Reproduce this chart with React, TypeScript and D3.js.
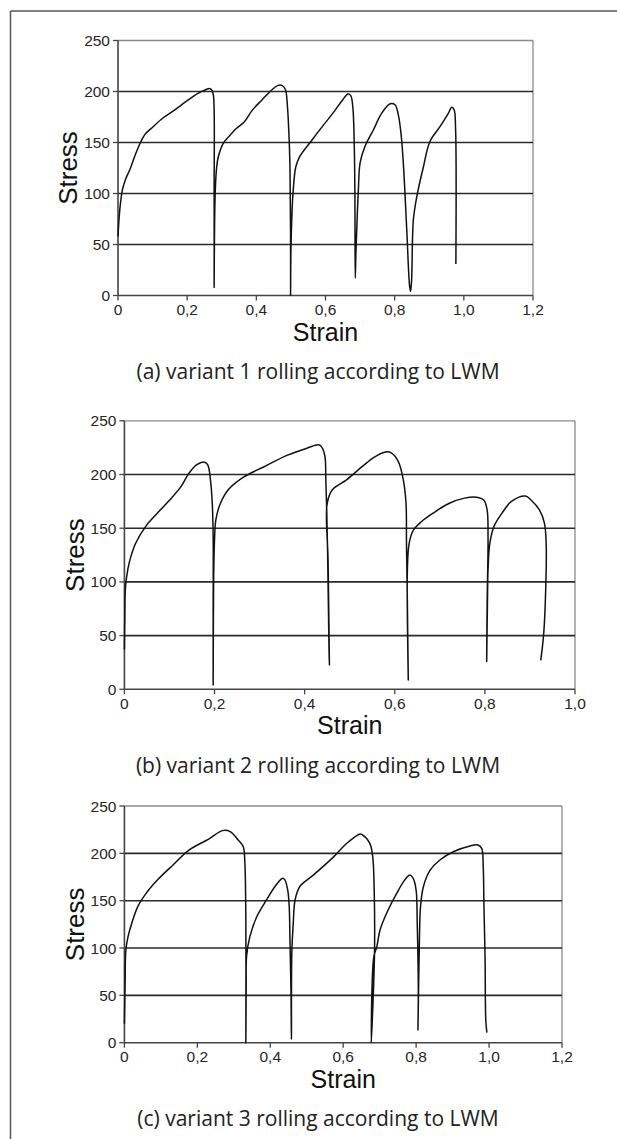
import React from "react";
import * as d3 from "d3";

// stress ticks shared by the three panels
const stressTicks = [0, 50, 100, 150, 200, 250];

const strainTicksA = [0, 0.2, 0.4, 0.6, 0.8, 1.0, 1.2];
const strainLabelsA = ["0", "0,2", "0,4", "0,6", "0,8", "1,0", "1,2"];
const strainTicksB = [0, 0.2, 0.4, 0.6, 0.8, 1.0];
const strainLabelsB = ["0", "0,2", "0,4", "0,6", "0,8", "1,0"];
const strainTicksC = [0, 0.2, 0.4, 0.6, 0.8, 1.0, 1.2];
const strainLabelsC = ["0", "0,2", "0,4", "0,6", "0,8", "1,0", "1,2"];

// (a) variant 1
const strainA = [0, 0.003, 0.007, 0.013, 0.022, 0.035, 0.05, 0.065, 0.078, 0.1, 0.13, 0.16, 0.2, 0.23, 0.255, 0.265, 0.272, 0.276, 0.278, 0.278, 0.279, 0.281, 0.285, 0.29, 0.304, 0.321, 0.343, 0.365, 0.389, 0.417, 0.446, 0.463, 0.474, 0.484, 0.49, 0.494, 0.497, 0.498, 0.499, 0.499, 0.5, 0.503, 0.506, 0.514, 0.525, 0.56, 0.594, 0.622, 0.65, 0.665, 0.673, 0.679, 0.683, 0.685, 0.686, 0.688, 0.692, 0.695, 0.7, 0.714, 0.738, 0.763, 0.787, 0.801, 0.81, 0.818, 0.825, 0.835, 0.843, 0.846, 0.849, 0.854, 0.864, 0.883, 0.902, 0.931, 0.955, 0.965, 0.972, 0.976, 0.977];
const stressA = [58, 75, 90, 104, 114, 124, 138, 150, 158, 165, 174, 181, 191, 198, 202, 203, 201, 196, 100, 8, 60, 100, 125, 136, 149, 156, 164, 170, 182, 192, 202, 206, 206, 202, 185, 160, 130, 100, 60, 0, 44, 80, 100, 126, 136, 152, 167, 179, 192, 197.5, 196, 185, 150, 100, 17, 42, 80, 103, 130, 146, 162, 179, 188, 187, 178, 160, 130, 64, 10, 4, 15, 74, 97, 126, 151, 165.5, 178.6, 184.5, 182, 165, 31];

// (b) variant 2
const strainB = [0, 0.001, 0.002, 0.005, 0.012, 0.025, 0.047, 0.073, 0.1, 0.126, 0.143, 0.16, 0.178, 0.185, 0.191, 0.195, 0.197, 0.197, 0.197, 0.198, 0.2, 0.203, 0.213, 0.231, 0.266, 0.309, 0.362, 0.405, 0.431, 0.438, 0.445, 0.447, 0.449, 0.451, 0.454, 0.455, 0.452, 0.45, 0.462, 0.493, 0.528, 0.554, 0.58, 0.593, 0.608, 0.619, 0.625, 0.626, 0.628, 0.63, 0.628, 0.632, 0.641, 0.659, 0.685, 0.72, 0.755, 0.785, 0.798, 0.805, 0.807, 0.805, 0.804, 0.806, 0.807, 0.811, 0.82, 0.838, 0.859, 0.89, 0.903, 0.921, 0.932, 0.936, 0.934, 0.93, 0.924];
const stressB = [37, 70, 92.5, 105, 120, 136, 151.5, 164, 176, 189, 201, 209, 211.5, 209, 195, 173, 142, 80, 4, 100, 139, 158, 173, 186, 198, 207, 218, 224.5, 227.6, 225.5, 217, 195, 167, 127, 40, 22.7, 120, 173, 186, 195, 207.5, 216, 221, 220, 212, 195, 173, 136, 80, 8.7, 111, 136, 148, 156, 164, 173, 178, 178.6, 176, 167, 142, 80, 26, 90, 111, 136, 151.5, 164, 175, 180, 176, 167, 155, 136, 80, 49, 27];

// (c) variant 3
const strainC = [0, 0.002, 0.004, 0.01, 0.02, 0.037, 0.06, 0.091, 0.134, 0.177, 0.231, 0.269, 0.29, 0.312, 0.326, 0.33, 0.333, 0.333, 0.334, 0.335, 0.344, 0.363, 0.39, 0.413, 0.434, 0.44, 0.448, 0.452, 0.454, 0.457, 0.458, 0.459, 0.463, 0.468, 0.481, 0.518, 0.573, 0.61, 0.646, 0.651, 0.673, 0.681, 0.685, 0.686, 0.683, 0.677, 0.684, 0.692, 0.701, 0.719, 0.747, 0.769, 0.783, 0.792, 0.8, 0.803, 0.806, 0.805, 0.809, 0.812, 0.82, 0.838, 0.865, 0.902, 0.948, 0.97, 0.98, 0.984, 0.986, 0.989, 0.991, 0.994];
const stressC = [20, 63, 98, 112, 126, 144, 158, 172, 188, 203.5, 215, 224, 223, 214, 207, 193, 133, 0, 60, 91, 112, 133, 151, 165, 173.6, 172, 161, 143.6, 108, 48.6, 3.5, 94, 126, 150.7, 165, 177, 196, 210.6, 220.5, 220, 210.6, 196, 161, 98, 56, 0, 91, 101, 119, 136.7, 158, 172, 177, 173.6, 161, 126, 55.7, 13.4, 108.5, 143.6, 165, 182, 193, 201.7, 207.8, 208.8, 205, 186, 143.6, 91, 24, 10.6];

const captions = [
  "(a) variant 1 rolling according to LWM",
  "(b) variant 2 rolling according to LWM",
  "(c) variant 3 rolling according to LWM",
];

const tickFont = "'Liberation Sans', Arial, sans-serif";

type PanelProps = {
  left: number;
  right: number;
  top: number;
  bottom: number;
  xMax: number;
  ticks: number[];
  labels: string[];
  strain: number[];
  stress: number[];
  caption: string;
};

function Panel(p: PanelProps) {
  const x = d3.scaleLinear().domain([0, p.xMax]).range([p.left, p.right]);
  const y = d3.scaleLinear().domain([0, 250]).range([p.bottom, p.top]);
  const pts = p.strain.map((s, i) => [s, p.stress[i]] as [number, number]);
  const line = d3
    .line<[number, number]>()
    .x((d) => x(d[0]))
    .y((d) => y(d[1]))
    .curve(d3.curveCatmullRom.alpha(0.5));
  const midY = (p.top + p.bottom) / 2;
  const midX = (p.left + p.right) / 2;

  return (
    <g>
      {/* border top/right */}
      <line x1={p.left} x2={p.right} y1={y(250)} y2={y(250)} stroke="#8a8a8a" strokeWidth={1.3} />
      <line x1={p.right} x2={p.right} y1={p.top} y2={p.bottom} stroke="#8a8a8a" strokeWidth={1.3} />
      {/* grid */}
      {stressTicks
        .filter((t) => t > 0 && t < 250)
        .map((t) => (
          <line key={t} x1={p.left} x2={p.right} y1={y(t)} y2={y(t)} stroke="#2a2a2a" strokeWidth={1.6} />
        ))}
      {/* axes */}
      <line x1={p.left} x2={p.left} y1={p.top} y2={p.bottom} stroke="#444" strokeWidth={1.6} />
      <line x1={p.left} x2={p.right} y1={p.bottom} y2={p.bottom} stroke="#444" strokeWidth={1.6} />
      {stressTicks.map((t) => (
        <g key={"y" + t}>
          <line x1={p.left - 5} x2={p.left} y1={y(t)} y2={y(t)} stroke="#444" strokeWidth={1.3} />
          <text
            x={p.left - 8}
            y={y(t) + 5.5}
            textAnchor="end"
            fontFamily={tickFont}
            fontSize={15.5}
            fill="#262626"
          >
            {t}
          </text>
        </g>
      ))}
      {p.ticks.map((t, i) => (
        <g key={"x" + t}>
          <line x1={x(t)} x2={x(t)} y1={p.bottom} y2={p.bottom + 5} stroke="#444" strokeWidth={1.3} />
          <text
            x={x(t)}
            y={p.bottom + 19.5}
            textAnchor="middle"
            fontFamily={tickFont}
            fontSize={15.5}
            fill="#262626"
          >
            {p.labels[i]}
          </text>
        </g>
      ))}
      <path d={line(pts) || ""} fill="none" stroke="#111" strokeWidth={1.5} strokeLinejoin="round" />
      <text
        transform={`translate(${p.left - 50},${midY}) rotate(-90)`}
        textAnchor="middle"
        dy="0.35em"
        fontFamily={tickFont}
        fontSize={26}
        fill="#111"
      >
        Stress
      </text>
      <text
        x={midX}
        y={p.bottom + 45}
        textAnchor="middle"
        fontFamily={tickFont}
        fontSize={25}
        fill="#111"
      >
        Strain
      </text>
      <text
        x={318}
        y={p.bottom + 83.5}
        textAnchor="middle"
        fontFamily="'Open Sans', sans-serif"
        fontSize={21}
        fill="#222"
      >
        {p.caption}
      </text>
    </g>
  );
}

export default function App() {
  return (
    <svg
      width={617}
      height={1139}
      style={{ position: "absolute", left: 0, top: 0, display: "block", background: "#fff" }}
    >
      <rect x={0} y={0} width={617} height={1139} fill="#fff" />
      {/* outer frame */}
      <line x1={10.5} x2={617} y1={11} y2={11} stroke="#555" strokeWidth={1.5} />
      <line x1={10.5} x2={10.5} y1={11} y2={1139} stroke="#555" strokeWidth={1.5} />
      <Panel left={118} right={533} top={40.5} bottom={295.5} xMax={1.2} ticks={strainTicksA} labels={strainLabelsA} strain={strainA} stress={stressA} caption={captions[0]} />
      <Panel left={124.4} right={575} top={420.8} bottom={689.3} xMax={1.0} ticks={strainTicksB} labels={strainLabelsB} strain={strainB} stress={stressB} caption={captions[1]} />
      <Panel left={124.4} right={562} top={806} bottom={1042.7} xMax={1.2} ticks={strainTicksC} labels={strainLabelsC} strain={strainC} stress={stressC} caption={captions[2]} />
    </svg>
  );
}
